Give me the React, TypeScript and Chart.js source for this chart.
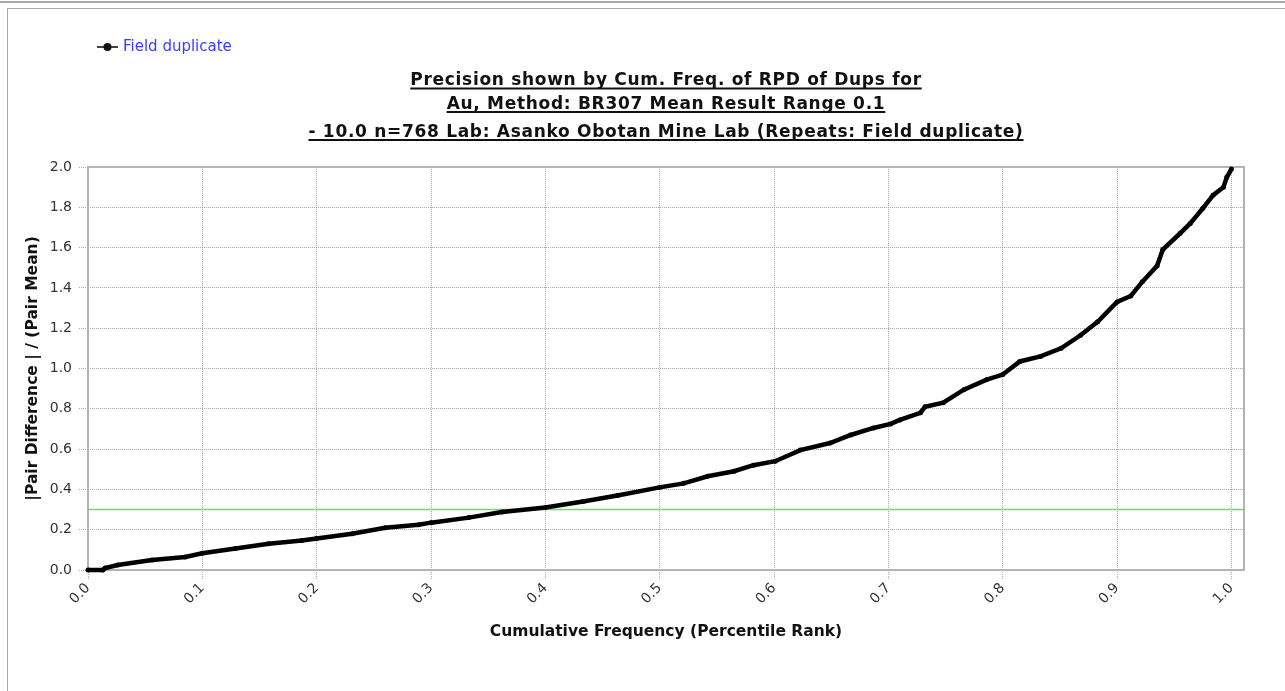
import React, { useEffect, useRef } from 'react';
import { Chart, registerables } from 'chart.js';

Chart.register(...registerables);

// ---------- data ----------
const legendLabel = 'Field duplicate';
const titleLines = [
  'Precision shown by Cum. Freq. of RPD of Dups for',
  'Au, Method: BR307 Mean Result Range 0.1',
  '- 10.0 n=768 Lab: Asanko Obotan Mine Lab (Repeats: Field duplicate)',
];
const xAxisTitle = 'Cumulative Frequency (Percentile Rank)';
const yAxisTitle = '|Pair Difference | / (Pair Mean)';

const percentileRank = [
  0.0, 0.013, 0.015, 0.026, 0.056, 0.085, 0.1, 0.129, 0.158, 0.187, 0.2, 0.231, 0.26, 0.289, 0.3,
  0.333, 0.362, 0.4, 0.433, 0.463, 0.5, 0.521, 0.542, 0.565, 0.582, 0.601, 0.623, 0.649, 0.667,
  0.687, 0.702, 0.71, 0.728, 0.732, 0.748, 0.766, 0.786, 0.8, 0.815, 0.833, 0.851, 0.868, 0.883,
  0.9, 0.912, 0.922, 0.935, 0.94, 0.955, 0.964, 0.975, 0.984, 0.993, 0.996, 1.0,
];
const pairRpd = [
  0.0, 0.0, 0.01, 0.025, 0.05, 0.065, 0.083, 0.107, 0.13, 0.146, 0.156, 0.18, 0.21, 0.225, 0.235,
  0.26, 0.288, 0.31, 0.34, 0.37, 0.41, 0.43, 0.465, 0.49, 0.52, 0.54, 0.595, 0.63, 0.67,
  0.705, 0.725, 0.745, 0.78, 0.81, 0.83, 0.895, 0.945, 0.97, 1.035, 1.06, 1.1, 1.165, 1.232,
  1.33, 1.36, 1.43, 1.51, 1.59, 1.67, 1.72, 1.795, 1.86, 1.9, 1.95, 1.99,
];

const thresholdRpd = 0.3;
const xRange = [0, 1.011];
const yRange = [0, 2.0];
const xTickValues = [0.0, 0.1, 0.2, 0.3, 0.4, 0.5, 0.6, 0.7, 0.8, 0.9, 1.0];
const yTickValues = [0.0, 0.2, 0.4, 0.6, 0.8, 1.0, 1.2, 1.4, 1.6, 1.8, 2.0];

// ---------- styles ----------
const FONT = '"DejaVu Sans", Tahoma, Verdana, sans-serif';
const W = 1285;
const H = 691;

const decorPlugin = {
  id: 'decor',
  beforeDraw(chart: any) {
    const { ctx } = chart;
    ctx.save();
    ctx.fillStyle = '#ffffff';
    ctx.fillRect(0, 0, chart.width, chart.height);
    ctx.fillStyle = '#a9a9a9';
    ctx.fillRect(0, 1, chart.width, 2);
    ctx.fillStyle = '#a8a8a8';
    ctx.fillRect(7, 8, chart.width - 7, 1);
    ctx.fillRect(7, 8, 1, chart.height - 8);
    ctx.restore();
  },
  beforeDatasetsDraw(chart: any) {
    const { ctx, chartArea } = chart;
    ctx.save();
    ctx.strokeStyle = '#b4b4b4';
    ctx.lineWidth = 2;
    ctx.strokeRect(chartArea.left, chartArea.top, chartArea.right - chartArea.left, chartArea.bottom - chartArea.top);
    ctx.restore();
  },
  afterDraw(chart: any) {
    const { ctx, chartArea } = chart;
    ctx.save();
    // legend
    const ly = 47;
    ctx.strokeStyle = '#000';
    ctx.lineWidth = 1.5;
    ctx.beginPath();
    ctx.moveTo(97, ly);
    ctx.lineTo(118, ly);
    ctx.stroke();
    ctx.fillStyle = '#111';
    ctx.beginPath();
    ctx.arc(107.5, ly, 4, 0, Math.PI * 2);
    ctx.fill();
    ctx.fillStyle = '#3a3aff';
    ctx.font = `15px ${FONT}`;
    ctx.textBaseline = 'middle';
    ctx.textAlign = 'left';
    ctx.fillText(legendLabel, 123, ly);

    // title
    const cx = (chartArea.left + chartArea.right) / 2;
    const baselines = [85, 108.5, 136.5];
    ctx.fillStyle = '#111';
    ctx.strokeStyle = '#111';
    ctx.font = `bold 17px ${FONT}`;
    (ctx as any).letterSpacing = '0.7px';
    ctx.textBaseline = 'alphabetic';
    ctx.textAlign = 'left';
    titleLines.forEach((line, i) => {
      const y = baselines[i];
      const w = ctx.measureText(line).width;
      const x0 = cx - w / 2;
      ctx.fillText(line, x0, y);
      ctx.lineWidth = 1.8;
      ctx.beginPath();
      ctx.moveTo(x0, y + 3.5);
      ctx.lineTo(x0 + w, y + 3.5);
      ctx.stroke();
    });
    (ctx as any).letterSpacing = '0px';
    ctx.restore();
  },
};

export default function App() {
  const ref = useRef<HTMLCanvasElement | null>(null);

  useEffect(() => {
    if (!ref.current) return;
    const curve = percentileRank.map((p, i) => ({ x: p, y: pairRpd[i] }));
    const threshold = [
      { x: xRange[0], y: thresholdRpd },
      { x: xRange[1], y: thresholdRpd },
    ];
    const gridCommon = {
      color: '#a8a8a8',
      lineWidth: 1,
      drawTicks: true,
      tickLength: 9,
      tickBorderDash: [1, 1],
      tickColor: '#a8a8a8',
    };
    const borderCommon = { display: false, dash: [1, 1] };
    const chart = new Chart(ref.current, {
      type: 'scatter',
      data: {
        datasets: [
          {
            label: legendLabel,
            data: curve,
            showLine: true,
            borderColor: '#000',
            backgroundColor: '#000',
            borderWidth: 4.5,
            pointRadius: 2.5,
            pointBorderWidth: 0,
            tension: 0,
            clip: 6,
          } as any,
          {
            label: 'threshold',
            data: threshold,
            showLine: true,
            borderColor: '#7dcf7d',
            borderWidth: 1.5,
            pointRadius: 0,
          } as any,
        ],
      },
      options: {
        responsive: false,
        animation: false,
        devicePixelRatio: 1,
        layout: { padding: { top: 167, right: 41, left: 0, bottom: 0 } },
        plugins: {
          legend: { display: false },
          title: { display: false },
          tooltip: { enabled: false },
        },
        scales: {
          x: {
            type: 'linear',
            min: xRange[0],
            max: xRange[1],
            afterBuildTicks: (scale: any) => {
              scale.ticks = xTickValues.map((v) => ({ value: v }));
            },
            afterFit: (scale: any) => {
              scale.height = 121;
            },
            grid: gridCommon as any,
            border: borderCommon as any,
            ticks: {
              minRotation: 45,
              maxRotation: 45,
              padding: 1,
              color: '#333',
              font: { family: FONT, size: 14 },
              callback: (v: any) => Number(v).toFixed(1),
            },
            title: {
              display: true,
              text: xAxisTitle,
              color: '#111',
              font: { family: FONT, size: 15.5, weight: 'bold' },
              padding: { top: 0, bottom: 49.7 },
            },
          },
          y: {
            type: 'linear',
            min: yRange[0],
            max: yRange[1],
            afterBuildTicks: (scale: any) => {
              scale.ticks = yTickValues.map((v) => ({ value: v }));
            },
            afterFit: (scale: any) => {
              scale.width = 88;
            },
            grid: gridCommon as any,
            border: borderCommon as any,
            ticks: {
              padding: 7,
              color: '#333',
              font: { family: FONT, size: 14 },
              callback: (v: any) => Number(v).toFixed(1),
            },
            title: {
              display: true,
              text: yAxisTitle,
              color: '#111',
              font: { family: FONT, size: 15.5, weight: 'bold' },
              padding: { top: 23.7, bottom: 0 },
            },
          },
        },
      },
      plugins: [decorPlugin],
    });
    return () => chart.destroy();
  }, []);

  return (
    <div style={{ position: 'fixed', left: 0, top: 0, width: W, height: H, background: '#fff' }}>
      <canvas ref={ref} width={W} height={H} style={{ display: 'block', width: W, height: H }} />
    </div>
  );
}
